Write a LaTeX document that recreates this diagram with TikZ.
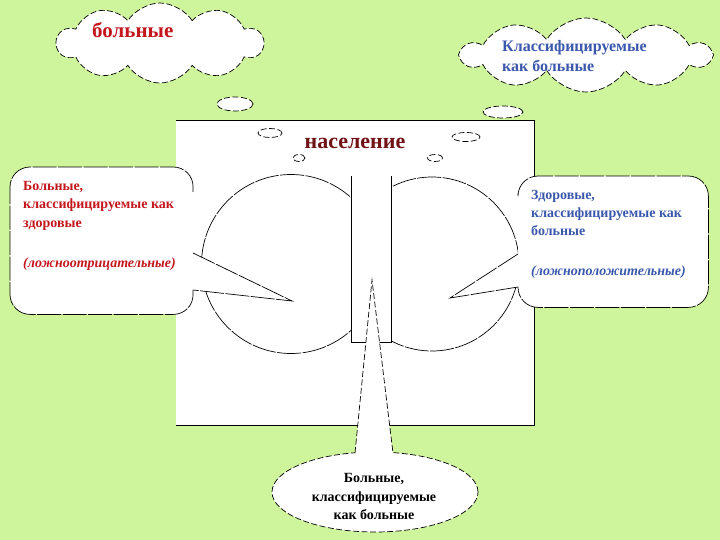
\documentclass[tikz,border=0pt]{standalone}
\usepackage{fontspec}
\setmainfont{Liberation Serif}
\usetikzlibrary{shapes.symbols,shapes.geometric}
\definecolor{bg}{RGB}{206,245,155}
\definecolor{tred}{RGB}{196,22,28}
\definecolor{tdark}{RGB}{112,18,22}
\definecolor{tblue}{RGB}{58,88,172}
\begin{document}
\begin{tikzpicture}[x=1pt,y=-1pt,
  sdash/.style={draw=black, line width=0.7pt, dash pattern=on 6pt off 2.5pt},
  ldash/.style={draw=black, line width=0.7pt, dash pattern=on 24pt off 1.5pt},
  bub/.style={ellipse, sdash, fill=white, inner sep=0pt},
  cl/.style={cloud, cloud puffs=10, cloud puff arc=115, cloud ignores aspect, sdash, fill=white, inner sep=0pt},
  bx/.style={ldash},
  txt/.style={anchor=base west, inner sep=0pt, font=\bfseries\fontsize{14}{17}\selectfont},
  itxt/.style={anchor=base west, inner sep=0pt, font=\bfseries\itshape\fontsize{14}{17}\selectfont},
  ctxt/.style={anchor=base, inner sep=0pt, font=\bfseries\fontsize{14}{17}\selectfont}]
\useasboundingbox (0,0) rectangle (720,540);
\fill[bg] (0,0) rectangle (720,540);
% clouds
\node[cl, minimum width=206pt, minimum height=80pt] (c1) at (160,43) {};
\node[cl, minimum width=248pt, minimum height=74pt] (c2) at (586,55) {};
\node[bub, minimum width=36pt, minimum height=14pt] (b1) at (235,104) {};
\node[bub, minimum width=40pt, minimum height=12pt] (b4) at (503,112) {};
% square
\node[fill=white, minimum width=358pt, minimum height=305pt, inner sep=0pt, anchor=north west] (sq) at (176,120) {};
\draw[line width=0.8pt] (sq.north west) -- (sq.north east) -- (sq.south east) -- (sq.south west);
\node[bub, minimum width=24pt, minimum height=9pt] (b2) at (270,133) {};
\node[bub, minimum width=12pt, minimum height=7pt] (b3) at (299,158) {};
\node[bub, minimum width=28pt, minimum height=9pt] (b5) at (466,137) {};
\node[bub, minimum width=15pt, minimum height=7pt] (b6) at (435,158) {};
% circles
\node[circle, ldash, fill=white, minimum size=174pt, inner sep=0pt] (rc) at (432,264) {};
\node[circle, ldash, fill=white, minimum size=179pt, inner sep=0pt] (lc) at (291,264) {};
% column
\node[fill=white, minimum width=40pt, minimum height=166pt, inner sep=0pt, anchor=north west] (col) at (351,176) {};
\draw[line width=0.8pt] (col.north west) -- (col.south west) -- (col.south east) -- (col.north east);
% left callout
\node[fill=white, rounded corners=20pt, minimum width=183pt, minimum height=147pt, inner sep=0pt, anchor=north west] (lbox) at (10,167) {};
\draw[bx] (193,192) [rounded corners=20pt] -- (lbox.north east) -- (lbox.north west) -- (lbox.south west) -- (lbox.south east) -- (193,290);
\coordinate (ltip) at (292,301);
\fill[white] (193,253) -- (ltip) -- (193,290) -- cycle;
\draw[bx] (193,253) -- (ltip) -- (193,290);
% right callout
\node[fill=white, rounded corners=20pt, minimum width=190pt, minimum height=131pt, inner sep=0pt, anchor=north west] (rbox) at (518,176) {};
\draw[bx] (518,193) [rounded corners=20pt] -- (rbox.north west) -- (rbox.north east) -- (rbox.south east) -- (rbox.south west) -- (518,287);
\coordinate (rtip) at (450,298);
\fill[white] (518,254) -- (rtip) -- (518,287) -- cycle;
\draw[bx] (518,254) -- (rtip) -- (518,287);
% bottom callout
\node[ellipse, sdash, fill=white, minimum width=206pt, minimum height=80pt, inner sep=0pt] (be) at (375,492) {};
\coordinate (btip) at (372,280);
\fill[white] (355,455) -- (btip) -- (393,455) -- cycle;
\draw[sdash] (355,453) -- (btip) -- (393,453);
% texts
\node[anchor=base west, inner sep=0pt, text=tred, font=\bfseries\fontsize{21}{24}\selectfont] (t1) at (92,38) {больные};
\node[txt, text=tblue, font=\bfseries\fontsize{16}{19}\selectfont] (t2a) at (502,52) {Классифицируемые};
\node[txt, text=tblue, font=\bfseries\fontsize{16}{19}\selectfont] (t2b) at (502,72) {как больные};
\node[anchor=base, inner sep=0pt, text=tdark, font=\bfseries\fontsize{22}{26}\selectfont] (t3) at (355,149) {население};
\node[txt, text=tred] (l1) at (23,191) {Больные,};
\node[txt, text=tred] (l2) at (23,209) {классифицируемые как};
\node[txt, text=tred] (l3) at (23,227) {здоровые};
\node[itxt, text=tred] (l4) at (23,267) {(ложноотрицательные)};
\node[txt, text=tblue] (r1) at (531,200) {Здоровые,};
\node[txt, text=tblue] (r2) at (531,218) {классифицируемые как};
\node[txt, text=tblue] (r3) at (531,236) {больные};
\node[itxt, text=tblue] (r4) at (531,275) {(ложноположительные)};
\node[ctxt] (m1) at (374,482) {Больные,};
\node[ctxt] (m2) at (374,501) {классифицируемые};
\node[ctxt] (m3) at (374,519) {как больные};
\end{tikzpicture}
\end{document}
